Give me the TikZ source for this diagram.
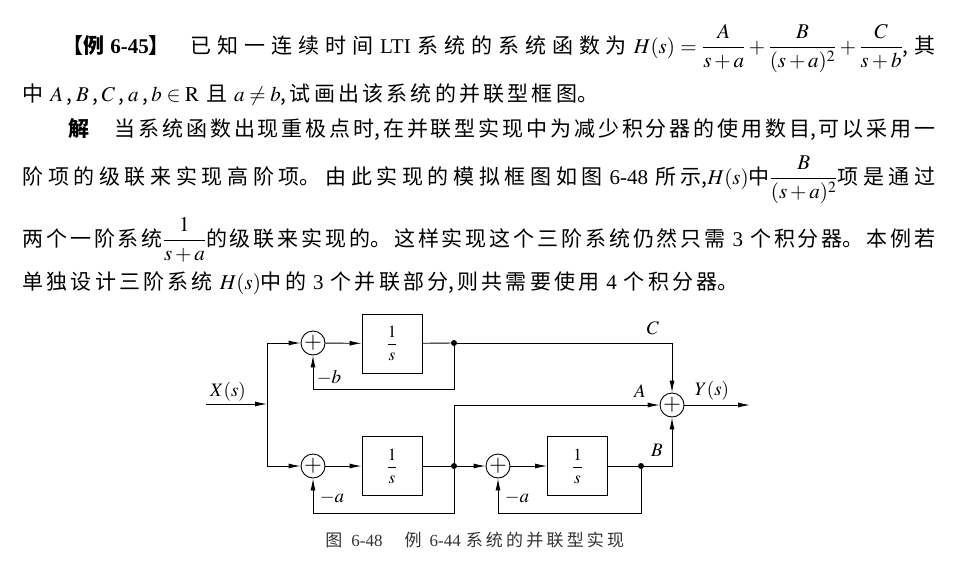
\documentclass[tikz,border=0pt]{standalone}
\usepackage{amsmath}
\usepackage{mathptmx}
\usepackage{fontspec}
\setmainfont{Liberation Serif}
\newfontfamily\cjk{Noto Sans CJK SC}
\usetikzlibrary{arrows.meta}
\newcommand\latn[1]{{\rmfamily #1}}
\newcommand\wgap{\hspace{7pt}}
\newcommand\cjkspread{\XeTeXlinebreaklocale "zh"\XeTeXlinebreakskip=2.4pt plus 8pt\relax}
\newcommand\fullline[1]{\parfillskip=0pt\relax #1\par}
\newcommand\lastline[1]{\XeTeXlinebreakskip=3.2pt\relax #1\par}
\begin{document}
\begin{tikzpicture}[x=1pt,y=-1pt,line width=0.9pt,
    >={Latex[length=12pt,width=5pt]},
    sumnode/.style={circle,draw,minimum size=24pt,inner sep=0pt,font=\fontsize{23}{23}\selectfont},
    intbox/.style={draw,minimum width=60pt,minimum height=59pt,inner sep=0pt,font=\fontsize{17}{20}\selectfont},
    joint/.style={circle,fill,inner sep=0pt,minimum size=6pt},
    lbl/.style={inner sep=1pt,font=\fontsize{19}{21}\selectfont},
    textline/.style={anchor=base west,inner sep=0pt,text width=#1,align=justify,
      font=\cjk\fontsize{21}{26}\selectfont\cjkspread}]
  \path[fill=white] (0,0) rectangle (973,573);
  \useasboundingbox (0,0) rectangle (973,573);
  % text of the example
  \node[textline=873pt] (line1) at (62,53) {\fullline{{\bfseries 【例 \latn{6-45}】}\hspace{1em}已知一连续时间\wgap\latn{LTI}\wgap 系统的系统函数为\wgap$H(s)=\dfrac{A}{s+a}+\dfrac{B}{(s+a)^2}+\dfrac{C}{s+b}$,其}};
  \node[textline=913pt] (line2) at (22,101) {\lastline{中\wgap$A$\,,\,$B$\,,\,$C$\,,\,$a$\,,\,$b\in\mathrm{R}$\wgap 且\wgap$a\neq b$,试画出该系统的并联型框图。}};
  \node[textline=867pt] (line3) at (68,136) {\fullline{{\bfseries 解}\hspace{1.2em}当系统函数出现重极点时,在并联型实现中为减少积分器的使用数目,可以采用一}};
  \node[textline=913pt] (line4) at (22,184) {\fullline{阶项的级联来实现高阶项。由此实现的模拟框图如图\wgap\latn{6-48}\wgap 所示,$H(s)$中$\dfrac{B}{(s+a)^2}$项是通过}};
  \node[textline=913pt] (line5) at (22,246) {\fullline{两个一阶系统$\dfrac{1}{s+a}$的级联来实现的。这样实现这个三阶系统仍然只需\wgap\latn{3}\wgap 个积分器。本例若}};
  \node[textline=913pt] (line6) at (22,289) {\lastline{单独设计三阶系统\wgap$H(s)$中的\wgap\latn{3}\wgap 个并联部分,则共需要使用\wgap\latn{4}\wgap 个积分器。}};
  % block diagram
  \node[sumnode] (sum1) at (313,343) {$+$};
  \node[sumnode] (sum2) at (313,466) {$+$};
  \node[sumnode] (sum3) at (498,466) {$+$};
  \node[sumnode] (sum4) at (672,405) {$+$};
  \node[intbox] (int1) at (392,343.5) {$\dfrac{1}{s}$};
  \node[intbox] (int2) at (392,466) {$\dfrac{1}{s}$};
  \node[intbox] (int3) at (577.5,466) {$\dfrac{1}{s}$};
  \node[joint] (d1) at (454,343) {};
  \node[joint] (d2) at (454,466) {};
  \node[joint] (d3) at (641,466) {};
  \coordinate (in) at (206,404);
  \coordinate (split) at (267,404);
  \coordinate (out) at (750,405);
  \draw[->] (in) -- (split);
  \draw[->] (split) |- (sum1);
  \draw[->] (split) |- (sum2);
  \draw[->] (sum1) -- (int1);
  \draw (int1) -- (d1);
  \draw[->] (d1) -| (sum4);
  \draw[->] (d1) -- ++(0,46) -| (sum1);
  \draw[->] (sum2) -- (int2);
  \draw (int2) -- (d2);
  \draw[->] (d2) -- (sum3);
  \draw[->] (d2) |- (sum4);
  \draw[->] (d2) -- ++(0,47) -| (sum2);
  \draw[->] (sum3) -- (int3);
  \draw (int3) -- (d3);
  \draw[->] (d3) -| (sum4);
  \draw[->] (d3) -- ++(0,47) -| (sum3);
  \draw[->] (sum4) -- (out);
  \node[lbl] (xlab) at (228,392) {$X(s)$};
  \node[lbl] (blab) at (329,378) {$-b$};
  \node[lbl] (alab1) at (332,498) {$-a$};
  \node[lbl] (alab2) at (517,498) {$-a$};
  \node[lbl] (clab) at (653,328) {$C$};
  \node[lbl] (alab) at (640,391) {$A$};
  \node[lbl] (blab2) at (657,450) {$B$};
  \node[lbl] (ylab) at (712,391) {$Y(s)$};
  \node[textline=330pt,text=black!80,font=\cjk\fontsize{17}{19}\selectfont\cjkspread] (caption) at (325,546) {\lastline{图\hspace{9pt}\latn{6-48}\hspace{22pt}例\hspace{8pt}\latn{6-44}\hspace{5pt}系统的并联型实现}};
\end{tikzpicture}
\end{document}
